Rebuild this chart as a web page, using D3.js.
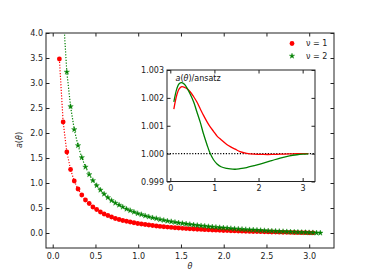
<!DOCTYPE html>
<html>
<head>
<meta charset="utf-8">
<script src="https://cdn.jsdelivr.net/npm/d3@7"></script>
<style>
  body { margin: 0; background: #fff; }
  text { font-family: "DejaVu Sans", sans-serif; }
</style>
</head>
<body>
<div id="chart"></div>
<script>
// theta grid of the sampled points
const theta = [
  0.078, 0.122, 0.165, 0.209, 0.252, 0.296, 0.340, 0.383, 0.427, 0.470,
  0.514, 0.558, 0.601, 0.645, 0.688, 0.732, 0.776, 0.819, 0.863, 0.906,
  0.950, 0.994, 1.037, 1.081, 1.124, 1.168, 1.212, 1.255, 1.299, 1.342,
  1.386, 1.430, 1.473, 1.517, 1.560, 1.604, 1.648, 1.691, 1.735, 1.778,
  1.822, 1.866, 1.909, 1.953, 1.996, 2.040, 2.084, 2.127, 2.171, 2.214,
  2.258, 2.302, 2.345, 2.389, 2.432, 2.476, 2.520, 2.563, 2.607, 2.650,
  2.694, 2.738, 2.781, 2.825, 2.868, 2.912, 2.956, 2.999, 3.043, 3.086,
  3.130
];
// a(theta) for nu = 1
const aNu1 = [
  3.48, 2.22, 1.62, 1.27, 1.04, 0.88, 0.76, 0.66, 0.59, 0.52,
  0.47, 0.42, 0.38, 0.35, 0.32, 0.29, 0.27, 0.25, 0.235, 0.22,
  0.205, 0.19, 0.18, 0.17, 0.16, 0.15, 0.14, 0.132, 0.125, 0.118,
  0.111, 0.105, 0.100, 0.094, 0.089, 0.084, 0.080, 0.075, 0.071, 0.067,
  0.064, 0.060, 0.057, 0.054, 0.050, 0.048, 0.045, 0.042, 0.039, 0.037,
  0.034, 0.032, 0.030, 0.028, 0.026, 0.024, 0.022, 0.020, 0.018, 0.016,
  0.015, 0.013, 0.011, 0.010, 0.008, 0.007, 0.006, 0.004, 0.003
];
// a(theta) for nu = 2
const aNu2 = [
  6.99, 4.42, 3.22, 2.53, 2.07, 1.75, 1.51, 1.32, 1.17, 1.05,
  0.95, 0.86, 0.78, 0.71, 0.65, 0.60, 0.56, 0.52, 0.48, 0.45,
  0.42, 0.39, 0.37, 0.345, 0.325, 0.305, 0.29, 0.27, 0.255, 0.24,
  0.228, 0.215, 0.203, 0.192, 0.181, 0.171, 0.162, 0.153, 0.145, 0.137,
  0.129, 0.122, 0.115, 0.108, 0.102, 0.096, 0.090, 0.085, 0.080, 0.075,
  0.070, 0.065, 0.061, 0.056, 0.052, 0.048, 0.044, 0.040, 0.037, 0.033,
  0.030, 0.026, 0.023, 0.020, 0.017, 0.014, 0.011, 0.008, 0.006, 0.003,
  0.001
];
// inset: a(theta)/ansatz
const insetTheta = [0.08, 0.15, 0.20, 0.26, 0.32, 0.38, 0.45, 0.53, 0.60, 0.68,
  0.75, 0.83, 0.90, 0.98, 1.06, 1.15, 1.28, 1.36, 1.47, 1.58,
  1.73, 1.90, 2.11, 2.30, 2.49, 2.70, 2.87, 3.00, 3.13];
const ratioNu1 = [1.00160, 1.00212, 1.00232, 1.00240, 1.00238, 1.00233, 1.00222, 1.00204, 1.00186, 1.00160,
  1.00138, 1.00115, 1.00097, 1.00080, 1.00063, 1.00050, 1.00033, 1.00025, 1.00016, 1.00007,
  1.00001, 0.99998, 0.99997, 0.99997, 0.99998, 0.99999, 1.00000, 1.00000, 1.00000];
const ratioNu2 = [1.00186, 1.00234, 1.00251, 1.00255, 1.00249, 1.00235, 1.00214, 1.00185, 1.00151, 1.00112,
  1.00072, 1.00033, 1.00002, 0.99978, 0.99963, 0.99953, 0.99947, 0.99945, 0.99944, 0.99946,
  0.99950, 0.99957, 0.99966, 0.99975, 0.99984, 0.99992, 0.99996, 0.99998, 0.99999];

const xTicks = [0, 0.5, 1, 1.5, 2, 2.5, 3];
const yTicks = [0, 0.5, 1, 1.5, 2, 2.5, 3, 3.5, 4];
const insetXTicks = [0, 1, 2, 3];
const insetYTicks = [0.999, 1.000, 1.001, 1.002, 1.003];

const W = 371, H = 279;
const red = "#ff0000", green = "#008000";

const svg = d3.select("#chart").append("svg")
  .attr("width", W).attr("height", H)
  .style("background", "#fff");

// main axes
const x = d3.scaleLinear().domain([-0.0785, 3.29]).range([46, 334]);
const y = d3.scaleLinear().domain([-0.3, 4.0]).range([248, 33]);

svg.append("clipPath").attr("id", "clipMain")
  .append("rect").attr("x", 46).attr("y", 33).attr("width", 288).attr("height", 215);

function styleAxis(g) {
  g.select(".domain").remove();
  g.selectAll(".tick line").attr("stroke", "#222");
  g.selectAll(".tick text").attr("fill", "#222").style("font-size", "8px");
}

svg.append("g").attr("transform", "translate(0,248)")
  .call(d3.axisBottom(x).tickValues(xTicks).tickFormat(d3.format(".1f")).tickSize(-3.5).tickPadding(5))
  .call(styleAxis);
svg.append("g").attr("transform", "translate(0,33)")
  .call(d3.axisTop(x).tickValues(xTicks).tickFormat("").tickSize(-3.5))
  .call(styleAxis);
svg.append("g").attr("transform", "translate(46,0)")
  .call(d3.axisLeft(y).tickValues(yTicks).tickFormat(d3.format(".1f")).tickSize(-3.5).tickPadding(3))
  .call(styleAxis);
svg.append("g").attr("transform", "translate(334,0)")
  .call(d3.axisRight(y).tickValues(yTicks).tickFormat("").tickSize(-3.5))
  .call(styleAxis);

const plot = svg.append("g").attr("clip-path", "url(#clipMain)");

const line = d3.line().x(d => x(d[0])).y(d => y(d[1]));
const pts1 = aNu1.map((v, i) => [theta[i], v]);
const pts2 = aNu2.map((v, i) => [theta[i], v]);

plot.append("path").datum(pts1).attr("d", line)
  .attr("fill", "none").attr("stroke", red).attr("stroke-width", 1.2).attr("stroke-dasharray", "1.2,1.6");
plot.append("path").datum(pts2).attr("d", line)
  .attr("fill", "none").attr("stroke", green).attr("stroke-width", 1.2).attr("stroke-dasharray", "1.2,1.6");

plot.selectAll(".m1").data(pts1).join("circle")
  .attr("cx", d => x(d[0])).attr("cy", d => y(d[1])).attr("r", 2.4).attr("fill", red);

const star = d3.symbol().type(d3.symbolStar).size(9);
plot.selectAll(".m2").data(pts2).join("path")
  .attr("d", star).attr("transform", d => `translate(${x(d[0])},${y(d[1])})`)
  .attr("fill", green).attr("stroke", green).attr("stroke-width", 0.4);

svg.append("rect").attr("x", 46).attr("y", 33).attr("width", 288).attr("height", 215)
  .attr("fill", "none").attr("stroke", "#222").attr("stroke-width", 1);

// axis labels
svg.append("text").attr("x", 190).attr("y", 269).attr("text-anchor", "middle")
  .style("font-size", "8px").style("font-style", "italic").attr("fill", "#222").text("θ");
svg.append("text").attr("transform", "translate(22,140) rotate(-90)").attr("text-anchor", "middle")
  .style("font-size", "8px").attr("fill", "#222")
  .call(t => {
    t.append("tspan").style("font-style", "italic").text("a");
    t.append("tspan").text("(");
    t.append("tspan").style("font-style", "italic").text("θ");
    t.append("tspan").text(")");
  });

// legend
const legend = svg.append("g");
legend.append("circle").attr("cx", 292).attr("cy", 43.5).attr("r", 2.4).attr("fill", red);
legend.append("path").attr("d", star).attr("transform", "translate(292,56)")
  .attr("fill", green).attr("stroke", green).attr("stroke-width", 0.4);
legend.append("text").attr("x", 306).attr("y", 46.3).style("font-size", "8px").attr("fill", "#222").text("ν = 1");
legend.append("text").attr("x", 306).attr("y", 58.8).style("font-size", "8px").attr("fill", "#222").text("ν = 2");

// inset
const xi = d3.scaleLinear().domain([-0.075, 3.28]).range([167, 315]);
const yi = d3.scaleLinear().domain([0.999, 1.003]).range([181.5, 70]);

svg.append("rect").attr("x", 167).attr("y", 70).attr("width", 148).attr("height", 111.5).attr("fill", "#fff");
svg.append("clipPath").attr("id", "clipInset")
  .append("rect").attr("x", 167).attr("y", 70).attr("width", 148).attr("height", 111.5);

svg.append("g").attr("transform", "translate(0,181.5)")
  .call(d3.axisBottom(xi).tickValues(insetXTicks).tickFormat(d3.format("d")).tickSize(-3.5).tickPadding(4))
  .call(styleAxis);
svg.append("g").attr("transform", "translate(0,70)")
  .call(d3.axisTop(xi).tickValues(insetXTicks).tickFormat("").tickSize(-3.5))
  .call(styleAxis);
svg.append("g").attr("transform", "translate(167,0)")
  .call(d3.axisLeft(yi).tickValues(insetYTicks).tickFormat(d3.format(".3f")).tickSize(-3.5).tickPadding(3))
  .call(styleAxis);
svg.append("g").attr("transform", "translate(315,0)")
  .call(d3.axisRight(yi).tickValues(insetYTicks).tickFormat("").tickSize(-3.5))
  .call(styleAxis);

const inset = svg.append("g").attr("clip-path", "url(#clipInset)");
inset.append("line").attr("x1", 167).attr("x2", 315).attr("y1", yi(1)).attr("y2", yi(1))
  .attr("stroke", "#000").attr("stroke-width", 1.2).attr("stroke-dasharray", "1.2,1.6");

const iline = d3.line().curve(d3.curveCatmullRom).x(d => xi(d[0])).y(d => yi(d[1]));
inset.append("path").datum(ratioNu1.map((v, i) => [insetTheta[i], v])).attr("d", iline)
  .attr("fill", "none").attr("stroke", red).attr("stroke-width", 1.3);
inset.append("path").datum(ratioNu2.map((v, i) => [insetTheta[i], v])).attr("d", iline)
  .attr("fill", "none").attr("stroke", green).attr("stroke-width", 1.3);

svg.append("rect").attr("x", 167).attr("y", 70).attr("width", 148).attr("height", 111.5)
  .attr("fill", "none").attr("stroke", "#222").attr("stroke-width", 1);

svg.append("text").attr("x", 175.5).attr("y", 81).style("font-size", "8px").attr("fill", "#111")
  .call(t => {
    t.append("tspan").style("font-style", "italic").text("a");
    t.append("tspan").text("(");
    t.append("tspan").style("font-style", "italic").text("θ");
    t.append("tspan").text(")/ansatz");
  });
</script>
</body>
</html>
